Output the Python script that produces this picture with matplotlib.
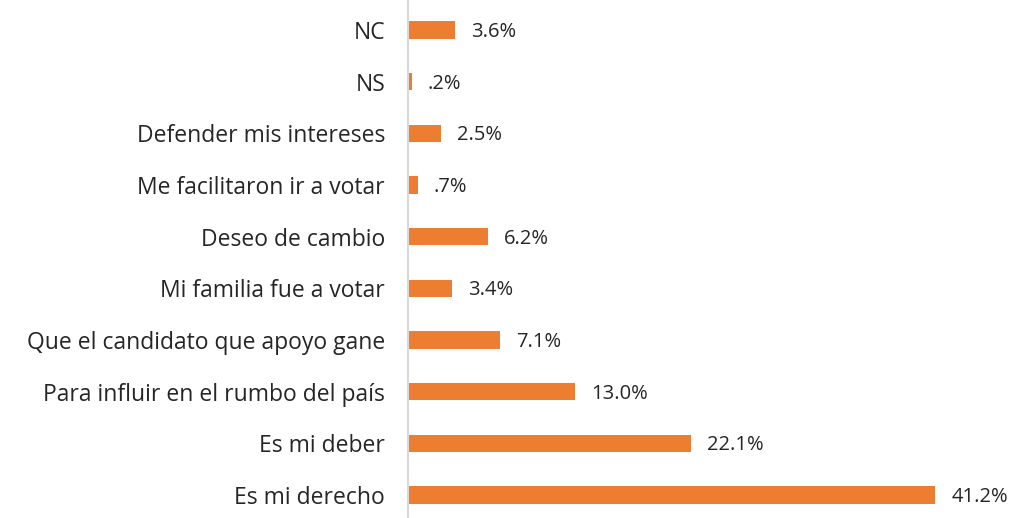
import numpy as np
import matplotlib
matplotlib.use("Agg")
import matplotlib.pyplot as plt

# categories from bottom to top
categories = ["Es mi derecho", "Es mi deber", "Para influir en el rumbo del país",
              "Que el candidato que apoyo gane", "Mi familia fue a votar",
              "Deseo de cambio", "Me facilitaron ir a votar",
              "Defender mis intereses", "NS", "NC"]
values = [41.2, 22.1, 13.0, 7.1, 3.4, 6.2, 0.7, 2.5, 0.2, 3.6]
labels = ["41.2%", "22.1%", "13.0%", "7.1%", "3.4%", "6.2%", ".7%", "2.5%", ".2%", "3.6%"]

plt.rcParams['font.family'] = ['Open Sans', 'DejaVu Sans']

fig = plt.figure(figsize=(10.11, 5.18), dpi=100)
ax = fig.add_axes([408 / 1011, 0, 603 / 1011, 1])

y = np.arange(len(categories))
ax.barh(y, values, height=0.34, color='#ED7D31', left=0)
for yi, v, lab in zip(y, values, labels):
    ax.annotate(lab, (v, yi), xytext=(11.5, -1.5), textcoords='offset points',
                va='center', ha='left', fontsize=14.5, color='#262626')

ax.set_xlim(-0.08, 603 / 12.8)
ax.set_ylim(-0.445, 9.58)
ax.set_yticks(y)
ax.set_yticklabels(categories, fontsize=16.5, color='#262626')
ax.tick_params(axis='y', length=0, pad=16.5)
ax.set_xticks([])
for s in ['top', 'right', 'bottom']:
    ax.spines[s].set_visible(False)
ax.spines['left'].set_color('#d9d9d9')
ax.spines['left'].set_linewidth(1.5)

fig.savefig('out.png', dpi=100)
